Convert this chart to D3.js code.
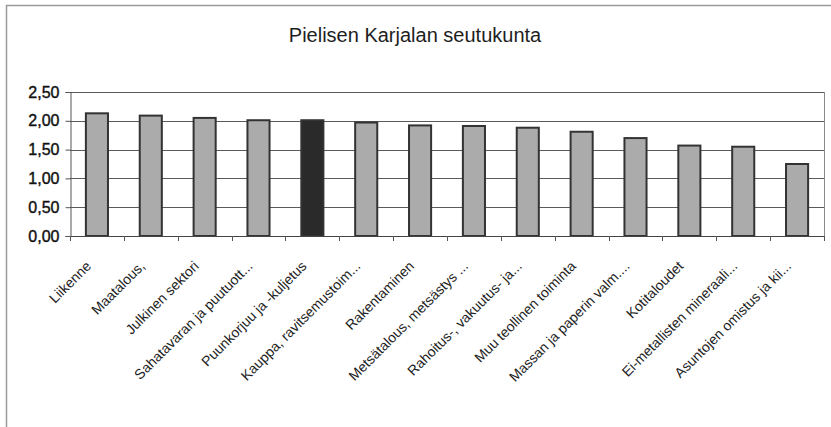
<!DOCTYPE html>
<html>
<head>
<meta charset="utf-8">
<script src="https://cdn.jsdelivr.net/npm/d3@7"></script>
<style>
  html, body { margin: 0; padding: 0; background: #fff; }
  svg { display: block; }
</style>
</head>
<body>
<svg id="chart" width="831" height="427"></svg>
<script>
// Sector categories (labels as shown, truncated where the axis truncates them)
const categories = [
  "Liikenne",
  "Maatalous,",
  "Julkinen sektori",
  "Sahatavaran ja puutuott...",
  "Puunkorjuu ja -kuljetus",
  "Kauppa, ravitsemustoim...",
  "Rakentaminen",
  "Metsätalous, metsästys ...",
  "Rahoitus-, vakuutus- ja...",
  "Muu teollinen toiminta",
  "Massan ja paperin valm....",
  "Kotitaloudet",
  "Ei-metallisten mineraali...",
  "Asuntojen omistus ja kii..."
];
const values = [2.13, 2.09, 2.05, 2.01, 2.01, 1.97, 1.92, 1.91, 1.88, 1.81, 1.70, 1.57, 1.55, 1.25];
const highlighted = ["Puunkorjuu ja -kuljetus"];
const yTicks = [0, 0.5, 1.0, 1.5, 2.0, 2.5];
const title = "Pielisen Karjalan seutukunta";

const svg = d3.select("#chart");
const W = 831, H = 427;
const plot = { left: 70, right: 824, top: 92, bottom: 236 };
const font = "Liberation Sans, Arial, sans-serif";

// Outer chart frame (left and top edges)
svg.append("path")
  .attr("d", `M6.5,${H} L6.5,5.5 L${W},5.5`)
  .attr("fill", "none")
  .attr("stroke", "#9a9a9a")
  .attr("stroke-width", 1.5);

svg.append("text")
  .attr("x", 415)
  .attr("y", 42)
  .attr("text-anchor", "middle")
  .attr("font-family", font)
  .attr("font-size", 20)
  .attr("fill", "#1e1e1e")
  .text(title);

const x = d3.scaleBand()
  .domain(categories)
  .range([plot.left, plot.right])
  .paddingInner(0.59)
  .paddingOuter(0.295);

const y = d3.scaleLinear()
  .domain([0, 2.5])
  .range([plot.bottom, plot.top]);

const fmt = d => d.toFixed(2).replace(".", ",");

// Horizontal gridlines
svg.append("g")
  .selectAll("line")
  .data(yTicks.filter(d => d > 0))
  .join("line")
  .attr("x1", plot.left)
  .attr("x2", plot.right)
  .attr("y1", d => Math.round(y(d)) + 0.5)
  .attr("y2", d => Math.round(y(d)) + 0.5)
  .attr("stroke", "#5a5a5a")
  .attr("stroke-width", 1);

// Right edge of the plot area
svg.append("line")
  .attr("x1", plot.right + 0.5).attr("x2", plot.right + 0.5)
  .attr("y1", plot.top).attr("y2", plot.bottom)
  .attr("stroke", "#8a8a8a");

// Y axis
const yAxis = d3.axisLeft(y)
  .tickValues(yTicks)
  .tickFormat(fmt)
  .tickSize(5)
  .tickPadding(6);

const gy = svg.append("g")
  .attr("transform", `translate(${plot.left + 0.5},0)`)
  .call(yAxis);
gy.select(".domain").attr("stroke", "#555");
gy.selectAll(".tick line").attr("stroke", "#555");
gy.selectAll(".tick text")
  .attr("font-family", font)
  .attr("font-size", 16)
  .attr("fill", "#111")
  .attr("stroke", "#111")
  .attr("stroke-width", 0.4);

// Bars
svg.append("g")
  .selectAll("rect")
  .data(categories.map((c, i) => ({ c, v: values[i] })))
  .join("rect")
  .attr("x", d => x(d.c))
  .attr("y", d => y(d.v))
  .attr("width", x.bandwidth())
  .attr("height", d => y(0) - y(d.v))
  .attr("fill", d => highlighted.includes(d.c) ? "#2a2a2a" : "#ababab")
  .attr("stroke", "#333")
  .attr("stroke-width", 2);

// X axis with category ticks between bars
const step = (plot.right - plot.left) / categories.length;
const gx = svg.append("g");
gx.append("line")
  .attr("x1", plot.left).attr("x2", plot.right)
  .attr("y1", plot.bottom + 0.5).attr("y2", plot.bottom + 0.5)
  .attr("stroke", "#444");
gx.selectAll("line.sep")
  .data(d3.range(categories.length + 1))
  .join("line")
  .attr("class", "sep")
  .attr("x1", i => Math.round(plot.left + i * step) + 0.5)
  .attr("x2", i => Math.round(plot.left + i * step) + 0.5)
  .attr("y1", plot.bottom)
  .attr("y2", plot.bottom + 5)
  .attr("stroke", "#555");

gx.selectAll("text")
  .data(categories)
  .join("text")
  .attr("transform", d => `translate(${x(d) + x.bandwidth() / 2 - 5},${plot.bottom + 31}) rotate(-45)`)
  .attr("text-anchor", "end")
  .attr("font-family", font)
  .attr("font-size", 14)
  .attr("fill", "#222")
  .text(d => d);
</script>
</body>
</html>
